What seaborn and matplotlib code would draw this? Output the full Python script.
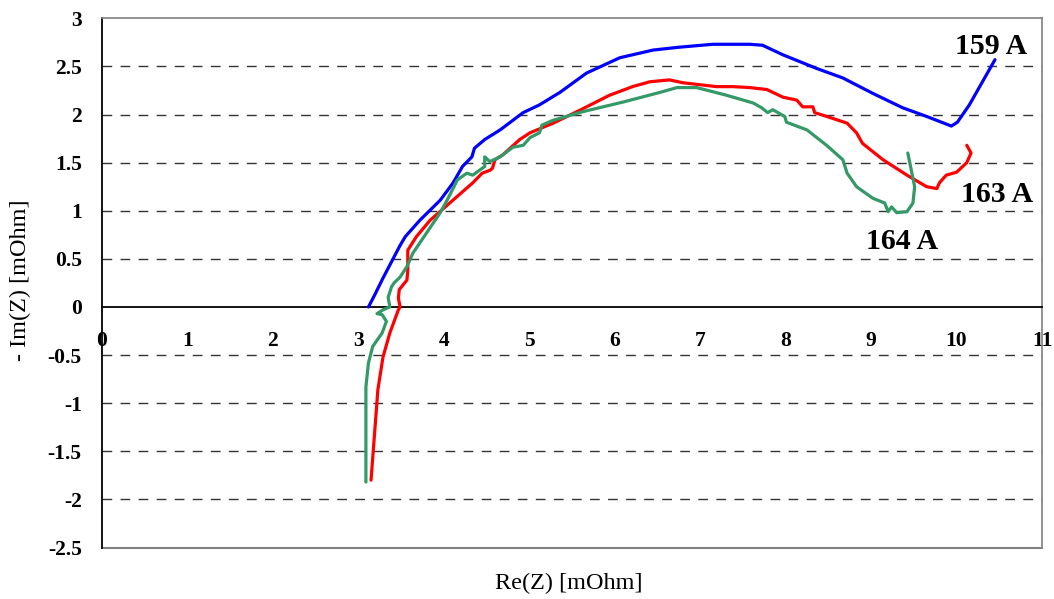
import matplotlib
matplotlib.use("Agg")
import matplotlib.pyplot as plt
import seaborn as sns
import pandas as pd

# ---- data ----
re_159 = [3.12, 3.19, 3.29, 3.39, 3.49, 3.55, 3.72, 3.96, 4.11, 4.22, 4.33, 4.36, 4.48, 4.66,
          4.93, 5.12, 5.36, 5.67, 6.06, 6.45, 6.76, 7.15, 7.58, 7.73, 7.97, 8.36, 8.67, 9.02,
          9.37, 9.65, 9.94, 10.01, 10.15, 10.45]
im_159 = [0.00, 0.12, 0.30, 0.47, 0.64, 0.73, 0.90, 1.11, 1.29, 1.46, 1.56, 1.65, 1.74, 1.84,
          2.02, 2.10, 2.23, 2.43, 2.59, 2.67, 2.70, 2.73, 2.73, 2.72, 2.62, 2.48, 2.38, 2.22,
          2.07, 1.98, 1.88, 1.92, 2.10, 2.57]

re_163 = [3.15, 3.23, 3.29, 3.37, 3.47, 3.49, 3.47, 3.48, 3.57, 3.58, 3.58, 3.68, 3.84, 4.07,
          4.34, 4.45, 4.54, 4.57, 4.60, 4.69, 4.89, 5.01, 5.28, 5.56, 5.94, 6.21, 6.41, 6.64,
          6.80, 7.19, 7.38, 7.58, 7.78, 7.97, 8.13, 8.20, 8.32, 8.34, 8.55, 8.72, 8.83, 8.90,
          9.14, 9.42, 9.65, 9.77, 9.80, 9.88, 10.00, 10.12, 10.17, 10.12]
im_163 = [-1.80, -0.86, -0.52, -0.27, -0.03, 0.00, 0.09, 0.18, 0.28, 0.38, 0.59, 0.73, 0.90, 1.08,
          1.29, 1.39, 1.42, 1.44, 1.53, 1.58, 1.74, 1.81, 1.91, 2.03, 2.20, 2.29, 2.34, 2.36,
          2.33, 2.29, 2.29, 2.28, 2.26, 2.18, 2.15, 2.08, 2.08, 2.02, 1.96, 1.91, 1.81, 1.70,
          1.53, 1.37, 1.25, 1.23, 1.29, 1.37, 1.40, 1.50, 1.60, 1.68]

re_164 = [3.09, 3.09, 3.12, 3.17, 3.28, 3.33, 3.28, 3.22, 3.29, 3.37, 3.35, 3.39, 3.42, 3.49,
          3.57, 3.64, 3.80, 3.96, 4.04, 4.16, 4.27, 4.34, 4.48, 4.48, 4.54, 4.66, 4.81, 4.93,
          5.01, 5.12, 5.15, 5.28, 5.63, 6.10, 6.53, 6.73, 6.96, 7.31, 7.62, 7.72, 7.79, 7.85,
          7.99, 8.01, 8.25, 8.48, 8.67, 8.72, 8.83, 9.02, 9.16, 9.20, 9.24, 9.30, 9.42, 9.49,
          9.51, 9.43]
im_164 = [-1.82, -0.83, -0.58, -0.41, -0.27, -0.15, -0.08, -0.07, -0.03, 0.00, 0.10, 0.21, 0.25, 0.31,
          0.42, 0.56, 0.77, 0.98, 1.11, 1.32, 1.39, 1.37, 1.46, 1.56, 1.51, 1.56, 1.66, 1.68,
          1.76, 1.81, 1.89, 1.94, 2.03, 2.13, 2.23, 2.28, 2.28, 2.20, 2.12, 2.07, 2.02, 2.05,
          1.98, 1.92, 1.84, 1.68, 1.53, 1.39, 1.25, 1.13, 1.08, 0.99, 1.04, 0.98, 0.99, 1.08,
          1.25, 1.60]

series_labels = ["159 A", "163 A", "164 A"]
label_x = [10.40, 10.47, 9.36]
label_y = [2.63, 1.09, 0.60]
x_ticks = list(range(0, 12))
y_ticks = [-2.5, -2, -1.5, -1, -0.5, 0, 0.5, 1, 1.5, 2, 2.5, 3]

# ---- plotting ----
sns.set_style("white")
plt.rcParams["font.family"] = ["Liberation Serif", "DejaVu Serif"]
plt.rcParams["text.color"] = "black"
plt.rcParams["xtick.color"] = "black"
plt.rcParams["ytick.color"] = "black"
plt.rcParams["axes.labelcolor"] = "black"

fig = plt.figure(figsize=(10.54, 5.99), dpi=100)
ax = fig.add_axes([101.8 / 1054, 1 - 547.5 / 599, (1042 - 101.8) / 1054, (547.5 - 18.3) / 599])

frames = []
for lab, xs, ys in zip(series_labels, [re_159, re_163, re_164], [im_159, im_163, im_164]):
    frames.append(pd.DataFrame({"re": xs, "im": ys, "series": lab}))
df = pd.concat(frames, ignore_index=True)

palette = {"159 A": "#0000FF", "163 A": "#FF0000", "164 A": "#339966"}
for lab in series_labels:
    sub = df[df["series"] == lab]
    sns.lineplot(data=sub, x="re", y="im", sort=False, estimator=None, color=palette[lab],
                 linewidth=2.3, ax=ax, legend=False, zorder=3)

# spines (set before ticks: moving a spine resets tick formatting)
ax.spines["bottom"].set_position(("data", 0))
ax.spines["bottom"].set_color("black")
ax.spines["bottom"].set_linewidth(1.3)
ax.spines["left"].set_color("black")
ax.spines["left"].set_linewidth(1.3)
for s in ("top", "right"):
    ax.spines[s].set_color("#808080")
    ax.spines[s].set_linewidth(1.2)

ax.set_xlim(0, 11)
ax.set_ylim(-2.5, 3)
ax.set_xticks(x_ticks)
ax.set_yticks(y_ticks)
ax.set_xticklabels([str(v) for v in x_ticks], fontsize=15.5, fontweight="bold")
ax.set_yticklabels([("%g" % v) for v in y_ticks], fontsize=15.5, fontweight="bold")

# dashed grid lines
for v in y_ticks:
    if v in (0, 3, -2.5):
        continue
    ax.axhline(v, color="#333333", linewidth=1.0, linestyle=(0, (7, 6)), zorder=1)

ax.axhline(-2.5, color="#808080", linewidth=1.5, zorder=2, clip_on=False)

ax.tick_params(axis="x", direction="out", length=4.5, width=1, color="black", labelcolor="black", pad=13)
ax.tick_params(axis="y", direction="out", length=4.5, width=1, color="black", labelcolor="black", pad=10)

ax.set_xlabel("")
ax.set_ylabel("")
fig.text(569 / 1054, 1 - 583 / 599, "Re(Z) [mOhm]", ha="center", va="center", fontsize=17.5,
         color="black")
fig.text(20 / 1054, 1 - 280 / 599, "- Im(Z) [mOhm]", ha="center", va="center", fontsize=17.5,
         rotation=90, color="black")

# series annotations
for lab, lx, ly in zip(series_labels, label_x, label_y):
    ax.text(lx, ly, lab, fontsize=21.5, fontweight="bold", ha="center", va="baseline",
            color="black")

fig.savefig("out.png", dpi=100)
